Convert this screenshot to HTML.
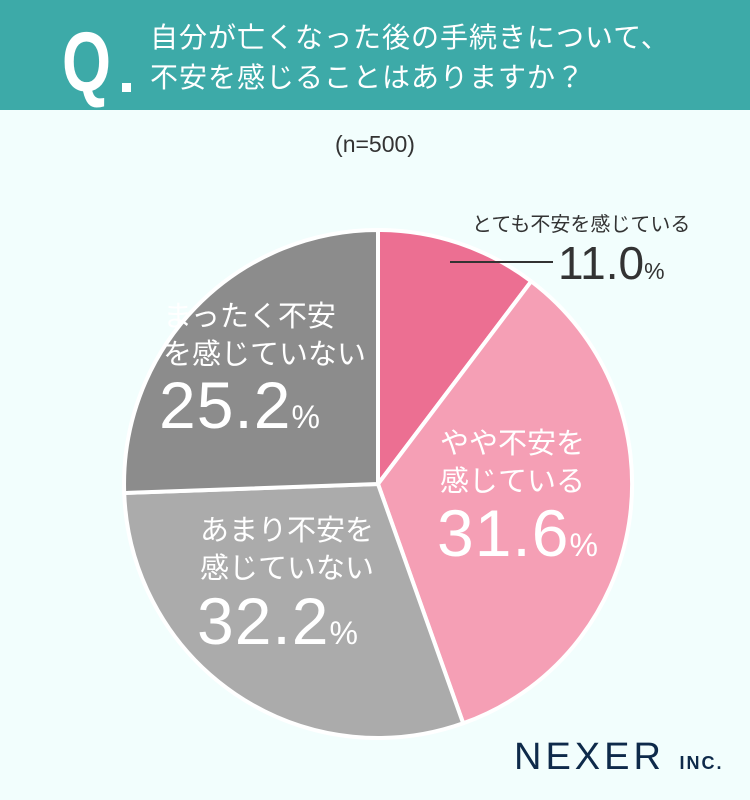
<!DOCTYPE html>
<html><head><meta charset="utf-8"><style>
body{margin:0;width:750px;height:800px;background:#F2FEFD;position:relative;overflow:hidden;font-family:"Liberation Sans","Noto Sans CJK JP",sans-serif}
.hdr{position:absolute;left:0;top:0;width:750px;height:110px;background:#3DAAA8}
.q{position:absolute;left:62px;top:20px;color:#fff;font-size:84px;font-weight:bold;line-height:84px;transform:scaleX(0.75);transform-origin:left}
.qd{position:absolute;background:#fff}
.t{position:absolute;left:150px;top:18px;color:#fff;font-size:28px;line-height:40px;letter-spacing:1px;white-space:nowrap}
.n{position:absolute;left:0;width:750px;top:131px;text-align:center;font-size:23px;color:#333}
.lbl{position:absolute;color:#fff;text-align:left;font-size:29px;line-height:38px;white-space:nowrap}
.big{font-size:66px;line-height:66px;letter-spacing:1px}
.big span{font-size:32px}
.nex{position:absolute;left:514px;top:736px;color:#0E2A4A;font-size:38px;letter-spacing:4px;white-space:nowrap}
.nex span{font-size:18px;font-weight:bold;letter-spacing:2px}
</style></head><body>
<div class="hdr"></div>
<div class="q">Q</div><div class="qd" style="left:122px;top:83px;width:9px;height:9px"></div>
<div class="t">自分が亡くなった後の手続きについて、<br>不安を感じることはありますか？</div>
<div class="n">(n=500)</div>
<svg style="position:absolute;left:0;top:0" width="750" height="800">
<g stroke="#fff" stroke-width="4" stroke-linejoin="round">
<path d="M378,484 L378,230 A254,254 0 0 1 531.2,281.3 Z" fill="#EC6F92"/>
<path d="M378,484 L531.2,281.3 A254,254 0 0 1 463.2,723.3 Z" fill="#F59FB5"/>
<path d="M378,484 L463.2,723.3 A254,254 0 0 1 124.2,493 Z" fill="#ABABAB"/>
<path d="M378,484 L124.2,493 A254,254 0 0 1 378,230 Z" fill="#8C8C8C"/>
</g>
<line x1="450" y1="262" x2="553" y2="262" stroke="#333" stroke-width="2"/>
</svg>
<div style="position:absolute;left:472px;top:208px;font-size:20px;color:#333;white-space:nowrap">とても不安を感じている</div>
<div style="position:absolute;left:558px;top:238px;font-size:46px;color:#333;line-height:50px;white-space:nowrap">11.0<span style="font-size:23px">%</span></div>
<div class="lbl" style="left:440px;top:425px">やや不安を<br>感じている</div>
<div class="lbl big" style="left:437px;top:500px">31.6<span>%</span></div>
<div class="lbl" style="left:200px;top:512px">あまり不安を<br>感じていない</div>
<div class="lbl big" style="left:197px;top:588px">32.2<span>%</span></div>
<div class="lbl" style="left:163px;top:298px">まったく不安<br>を感じていない</div>
<div class="lbl big" style="left:159px;top:372px">25.2<span>%</span></div>
<div class="nex">NEXER <span>INC.</span></div>
</body></html>
